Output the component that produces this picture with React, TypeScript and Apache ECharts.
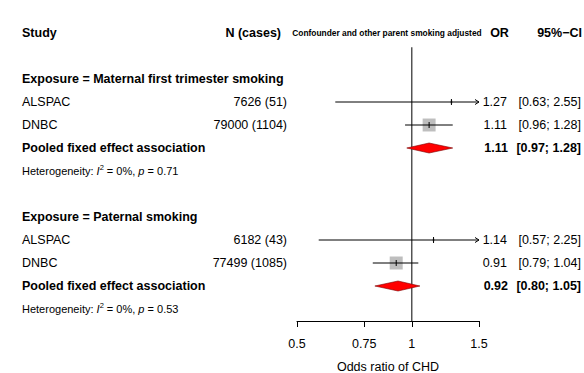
import React, { useEffect, useRef } from "react";
import * as echarts from "echarts";

// ---------- data ----------
const headerLabels = ["Study", "N (cases)", "Confounder and other parent smoking adjusted", "OR", "95%\u2212CI"];
const groupTitles = ["Exposure = Maternal first trimester smoking", "Exposure = Paternal smoking"];
const groupRows = [2, 8];
const studyNames = ["ALSPAC", "DNBC", "ALSPAC", "DNBC"];
const studyRows = [3, 4, 9, 10];
const studyN = ["7626 (51)", "79000 (1104)", "6182 (43)", "77499 (1085)"];
const studyOR = [1.27, 1.11, 1.14, 0.91];
const studyLower = [0.63, 0.96, 0.57, 0.79];
const studyUpper = [2.55, 1.28, 2.25, 1.04];
const studyWeight = [4.1, 95.9, 3.4, 96.6];
const pooledLabel = "Pooled fixed effect association";
const pooledRows = [5, 11];
const pooledOR = [1.11, 0.92];
const pooledLower = [0.97, 0.8];
const pooledUpper = [1.28, 1.05];
const hetRows = [6, 12];
const hetI2 = ["0%", "0%"];
const hetP = ["0.71", "0.53"];
const xTicks = [0.5, 0.75, 1, 1.5];
const xTickLabels = ["0.5", "0.75", "1", "1.5"];
const xAxisTitle = "Odds ratio of CHD";

// ---------- layout ----------
const W = 584;
const H = 373;
const FONT = "'Liberation Sans', Arial, Helvetica, sans-serif";
const FS = 12.5;
const ROW_H = 23;
const GRID_TOP = 33;
const GRID_BOTTOM = 52;
const GRID_LEFT = 297;
const GRID_RIGHT = 105;
const X_MIN = Math.log(xTicks[0]);
const X_MAX = Math.log(xTicks[xTicks.length - 1]);
const Y_MAX = (H - GRID_TOP - GRID_BOTTOM) / ROW_H;
const REF_TOP_ROW = 0.62;

type TextItem = {
  text: string;
  row: number;
  x: number;
  align: "left" | "right" | "center";
  bold?: boolean;
  size?: number;
  rich?: any;
};

function buildTextItems(): TextItem[] {
  const items: TextItem[] = [];
  items.push({ text: headerLabels[0], row: 0, x: 22, align: "left", bold: true, size: FS });
  items.push({ text: headerLabels[1], row: 0, x: 281, align: "right", bold: true, size: FS });
  items.push({ text: headerLabels[2], row: 0, x: 387, align: "center", bold: true, size: 8.4 });
  items.push({ text: headerLabels[3], row: 0, x: 499.5, align: "center", bold: true, size: FS });
  items.push({ text: headerLabels[4], row: 0, x: 582, align: "right", bold: true, size: FS });
  groupTitles.forEach((t, i) =>
    items.push({ text: t, row: groupRows[i], x: 22, align: "left", bold: true, size: FS })
  );
  studyNames.forEach((n, i) => {
    const r = studyRows[i];
    items.push({ text: n, row: r, x: 22, align: "left", size: FS });
    items.push({ text: studyN[i], row: r, x: 287, align: "right", size: FS });
    items.push({ text: studyOR[i].toFixed(2), row: r, x: 507, align: "right", size: FS });
    items.push({
      text: `[${studyLower[i].toFixed(2)}; ${studyUpper[i].toFixed(2)}]`,
      row: r,
      x: 581,
      align: "right",
      size: FS,
    });
  });
  pooledRows.forEach((r, i) => {
    items.push({ text: pooledLabel, row: r, x: 22, align: "left", bold: true, size: FS });
    items.push({ text: pooledOR[i].toFixed(2), row: r, x: 508, align: "right", bold: true, size: FS });
    items.push({
      text: `[${pooledLower[i].toFixed(2)}; ${pooledUpper[i].toFixed(2)}]`,
      row: r,
      x: 581,
      align: "right",
      bold: true,
      size: FS,
    });
  });
  hetRows.forEach((r, i) => {
    items.push({
      text: `Heterogeneity: {it|I}{sup|2} = ${hetI2[i]}, {it|p} = ${hetP[i]}`,
      row: r,
      x: 22,
      align: "left",
      size: 11,
      rich: {
        it: { fontStyle: "italic", fontSize: 11, fontFamily: FONT, fill: "#000", lineHeight: 15 },
        sup: { fontSize: 7.5, fontFamily: FONT, fill: "#000", verticalAlign: "top", lineHeight: 9 },
      },
    });
  });
  return items;
}

export default function App() {
  const ref = useRef<HTMLDivElement>(null);

  useEffect(() => {
    document.body.style.margin = "0";
    if (!ref.current) return;
    const chart = echarts.init(ref.current, null, { renderer: "svg" });
    const textItems = buildTextItems();

    const studyData = studyOR.map((or, i) => [
      Math.log(or),
      studyRows[i],
      Math.log(studyLower[i]),
      Math.log(studyUpper[i]),
      studyWeight[i],
    ]);
    const pooledData = pooledOR.map((or, i) => [
      Math.log(or),
      pooledRows[i],
      Math.log(pooledLower[i]),
      Math.log(pooledUpper[i]),
    ]);
    const maxW = Math.max(...studyWeight);

    const option: any = {
      animation: false,
      backgroundColor: "#fff",
      grid: {
        left: GRID_LEFT,
        right: GRID_RIGHT,
        top: GRID_TOP,
        bottom: GRID_BOTTOM,
        containLabel: false,
        outerBoundsMode: "none",
      },
      xAxis: {
        type: "value",
        min: X_MIN,
        max: X_MAX,
        splitLine: { show: false },
        axisLine: { show: true, onZero: false, lineStyle: { color: "#000", width: 1 } },
        axisTick: {
          show: true,
          length: 6,
          customValues: xTicks.map((t) => Math.log(t)),
          lineStyle: { color: "#000", width: 1 },
        },
        axisLabel: {
          show: true,
          customValues: xTicks.map((t) => Math.log(t)),
          formatter: (v: number) => {
            let best = 0;
            xTicks.forEach((t, i) => {
              if (Math.abs(Math.log(t) - v) < Math.abs(Math.log(xTicks[best]) - v)) best = i;
            });
            return xTickLabels[best];
          },
          color: "#000",
          fontSize: FS,
          fontFamily: FONT,
          margin: 16,
        },
        name: xAxisTitle,
        nameLocation: "middle",
        nameGap: 39,
        nameTextStyle: { color: "#000", fontSize: FS, fontFamily: FONT },
      },
      yAxis: { type: "value", min: 0, max: Y_MAX, inverse: true, show: false },
      series: [
        {
          type: "custom",
          name: "ref",
          data: [[0, REF_TOP_ROW]],
          clip: false,
          z: 1,
          renderItem: (params: any, api: any) => {
            const p0 = api.coord([0, api.value(1)]);
            const p1 = api.coord([0, Y_MAX]);
            return {
              type: "line",
              shape: { x1: p0[0], y1: p0[1], x2: p1[0], y2: p1[1] },
              style: { stroke: "#000", lineWidth: 1 },
            };
          },
        },
        {
          type: "custom",
          name: "studies",
          data: studyData,
          clip: false,
          z: 2,
          renderItem: (params: any, api: any) => {
            const row = api.value(1);
            const est = api.value(0);
            const lo = api.value(2);
            const hi = api.value(3);
            const w = api.value(4);
            const clipR = hi > X_MAX;
            const clipL = lo < X_MIN;
            const p0 = api.coord([Math.max(lo, X_MIN), row]);
            const p1 = api.coord([Math.min(hi, X_MAX), row]);
            const pc = api.coord([est, row]);
            const size = 13 * Math.sqrt(w / maxW);
            const children: any[] = [
              {
                type: "rect",
                shape: { x: pc[0] - size / 2, y: pc[1] - size / 2, width: size, height: size },
                style: { fill: "#BEBEBE" },
              },
              {
                type: "line",
                shape: { x1: p0[0], y1: p0[1], x2: p1[0], y2: p1[1] },
                style: { stroke: "#000", lineWidth: 1 },
              },
              {
                type: "line",
                shape: { x1: pc[0], y1: pc[1] - 3, x2: pc[0], y2: pc[1] + 3 },
                style: { stroke: "#000", lineWidth: 1 },
              },
            ];
            if (clipR) {
              children.push({
                type: "polyline",
                shape: { points: [[p1[0] - 4, p1[1] - 2.5], [p1[0], p1[1]], [p1[0] - 4, p1[1] + 2.5]] },
                style: { stroke: "#000", lineWidth: 1, fill: "none" },
              });
            }
            if (clipL) {
              children.push({
                type: "polyline",
                shape: { points: [[p0[0] + 4, p0[1] - 2.5], [p0[0], p0[1]], [p0[0] + 4, p0[1] + 2.5]] },
                style: { stroke: "#000", lineWidth: 1, fill: "none" },
              });
            }
            return { type: "group", children };
          },
        },
        {
          type: "custom",
          name: "pooled",
          data: pooledData,
          clip: false,
          z: 3,
          renderItem: (params: any, api: any) => {
            const row = api.value(1);
            const pc = api.coord([api.value(0), row]);
            const pl = api.coord([api.value(2), row]);
            const ph = api.coord([api.value(3), row]);
            const h = 5;
            return {
              type: "polygon",
              shape: {
                points: [
                  [pl[0], pl[1]],
                  [pc[0], pc[1] - h],
                  [ph[0], ph[1]],
                  [pc[0], pc[1] + h],
                ],
              },
              style: { fill: "#FF0000", stroke: "#7a0000", lineWidth: 0.6 },
            };
          },
        },
        {
          type: "custom",
          name: "texts",
          data: textItems.map((t) => [0, t.row]),
          clip: false,
          z: 4,
          renderItem: (params: any, api: any) => {
            const t = textItems[params.dataIndex];
            const p = api.coord([0, api.value(1)]);
            const style: any = {
              text: t.text,
              x: t.x,
              y: p[1],
              align: t.align,
              verticalAlign: "middle",
              fill: "#000",
              fontSize: t.size || FS,
              fontWeight: t.bold ? "bold" : "normal",
              fontFamily: FONT,
            };
            if (t.rich) {
              style.rich = t.rich;
              style.lineHeight = 15;
            }
            return { type: "text", style };
          },
        },
      ],
    };

    chart.setOption(option);
    return () => chart.dispose();
  }, []);

  return <div ref={ref} style={{ width: W, height: H }} />;
}
